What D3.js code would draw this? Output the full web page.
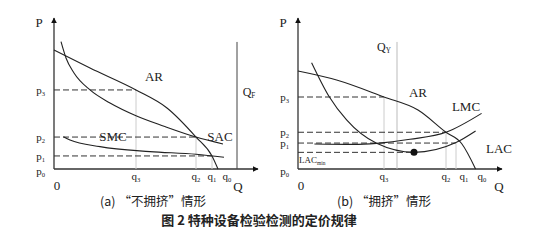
<!DOCTYPE html>
<html>
<head>
<meta charset="utf-8">
<script src="https://cdn.jsdelivr.net/npm/d3@7"></script>
<style>
  body { margin: 0; background: #fff; }
  svg text { font-family: "Liberation Serif", "DejaVu Serif", serif; fill: #222; }
  .cn { font-family: "Noto Sans CJK SC", sans-serif; }
</style>
</head>
<body>
<div id="chart"></div>
<script>
// panel (a) "no crowding"
var arA = [[0, 79.3], [18, 67.3], [41, 52.7], [56.5, 40.7], [71, 21.3], [79, 8.7], [82, 0]];
var sacA = [[3.5, 84.9], [6, 74], [10, 64], [18, 52.7], [28, 44], [41, 35.5], [55, 28.5], [71, 21.3], [84.5, 16.7]];
var smcA = [[4.7, 21.5], [8, 19.3], [23, 14.9], [48, 11.6], [71, 9.8], [85, 7.8]];
var priceA = [{name: "3", p: 52.7, q: 41}, {name: "2", p: 21.3, q: 71}, {name: "1", p: 8.7, q: 79}];
var qTicksA = [{name: "3", q: 41}, {name: "2", q: 71}, {name: "1", q: 79}, {name: "0", q: 86.5}];
var qFA = 91.5;

// panel (b) "crowding"
var arB = [[0, 65.3], [19.3, 59.3], [43, 48], [60, 39.3], [74, 24.5], [81.8, 17], [88.8, 0]];
var lacB = [[6.8, 70.9], [15.7, 48], [24.3, 32.7], [39.3, 17.1], [58, 11.1], [79, 17.6], [88.8, 25.3]];
var lmcB = [[8.2, 16.7], [27.7, 16.4], [39.3, 17.1], [56, 19.8], [74, 24.5], [91.8, 37.1]];
var priceB = [{name: "3", p: 48, q: 43}, {name: "2", p: 24.5, q: 74}, {name: "1", p: 17.3, q: 79}];
var lacMin = {p: 11.1, q: 58};
var qTicksB = [{name: "3", q: 43}, {name: "2", q: 74}, {name: "1", q: 83}, {name: "0", q: 92}];
var qYB = 49.5;

var svg = d3.select("#chart").append("svg")
    .attr("width", 542)
    .attr("height", 242);

svg.append("defs").append("marker")
    .attr("id", "arrow")
    .attr("viewBox", "0 0 10 10")
    .attr("refX", 9).attr("refY", 5)
    .attr("markerWidth", 6).attr("markerHeight", 6)
    .attr("markerUnits", "userSpaceOnUse")
    .attr("orient", "auto")
  .append("path")
    .attr("d", "M0,0 L10,5 L0,10 z")
    .attr("fill", "#111");

var line = d3.line().curve(d3.curveMonotoneX);

function subLabel(g, x, y, main, sub, anchor, size) {
  var t = g.append("text")
      .attr("x", x).attr("y", y)
      .attr("text-anchor", anchor || "middle")
      .attr("font-size", size || 12);
  t.append("tspan").text(main);
  if (sub) t.append("tspan").attr("dy", 2).attr("font-size", (size || 12) * 0.6).text(sub);
  return t;
}

function panel(x0, opts) {
  var x = d3.scaleLinear().domain([0, 100]).range([x0, x0 + 200]);
  var y = d3.scaleLinear().domain([0, 100]).range([169, 19]);
  var g = svg.append("g");
  var xy = function(d) { return [x(d[0]), y(d[1])]; };

  // axes
  g.append("line")
      .attr("x1", x(0)).attr("y1", y(0)).attr("x2", x(0)).attr("y2", y(100) - 1)
      .attr("stroke", "#333").attr("stroke-width", 1.3)
      .attr("marker-end", "url(#arrow)");
  g.append("line")
      .attr("x1", x(0)).attr("y1", y(0)).attr("x2", x(opts.xEnd)).attr("y2", y(0))
      .attr("stroke", "#333").attr("stroke-width", 1.3)
      .attr("marker-end", "url(#arrow)");

  // vertical reference line (Q_F / Q_Y)
  g.append("line")
      .attr("x1", x(opts.qCap)).attr("x2", x(opts.qCap))
      .attr("y1", y(0)).attr("y2", y(84.7))
      .attr("stroke", opts.capColor).attr("stroke-width", 1);

  // dashed price lines + dotted drop lines
  opts.prices.forEach(function(d) {
    g.append("line")
        .attr("x1", x(0)).attr("x2", x(d.q)).attr("y1", y(d.p)).attr("y2", y(d.p))
        .attr("stroke", "#333").attr("stroke-width", 1).attr("stroke-dasharray", "6,3");
    g.append("line")
        .attr("x1", x(d.q)).attr("x2", x(d.q)).attr("y1", y(d.p)).attr("y2", y(0))
        .attr("stroke", "#ccc").attr("stroke-width", 1);
    subLabel(g, x(0) - 9, y(d.p) + 4, "p", d.name, "end", 11);
  });
  subLabel(g, x(0) - 9, y(0) + 6, "p", "0", "end", 11);

  // curves
  opts.curves.forEach(function(c) {
    g.append("path")
        .attr("d", line(c.map(xy)))
        .attr("fill", "none").attr("stroke", "#222").attr("stroke-width", 1.1);
  });

  // q ticks
  opts.qTicks.forEach(function(d) {
    subLabel(g, x(d.q), y(0) + 11, "q", d.name, "middle", 11);
  });
  g.append("text").attr("x", x(0) + 3).attr("y", 190).attr("text-anchor", "middle")
      .attr("font-size", 13).text("0");
  g.append("text").attr("x", opts.qLabelX).attr("y", 191).attr("text-anchor", "middle")
      .attr("font-size", 13).text("Q");
  g.append("text").attr("x", x(0) - 15).attr("y", 27).attr("text-anchor", "middle")
      .attr("font-size", 13).text("P");

  return {g: g, x: x, y: y};
}

// panel (a)
var A = panel(54, {
  xEnd: 102, qCap: qFA, capColor: "#444",
  prices: priceA, qTicks: qTicksA, qLabelX: 238,
  curves: [arA, sacA, smcA]
});
A.g.append("text").attr("x", 154).attr("y", 81).attr("text-anchor", "middle").attr("font-size", 13).text("AR");
A.g.append("text").attr("x", 113).attr("y", 141).attr("text-anchor", "middle").attr("font-size", 13).text("SMC");
A.g.append("text").attr("x", 220).attr("y", 141).attr("text-anchor", "middle").attr("font-size", 13).text("SAC");
subLabel(A.g, 249, 96, "Q", "F", "middle", 12);

// panel (b)
var B = panel(298, {
  xEnd: 102, qCap: qYB, capColor: "#bbb",
  prices: priceB, qTicks: qTicksB, qLabelX: 499,
  curves: [arB, lacB, lmcB]
});
// LACmin line
B.g.append("line")
    .attr("x1", B.x(0)).attr("x2", B.x(lacMin.q)).attr("y1", B.y(lacMin.p)).attr("y2", B.y(lacMin.p))
    .attr("stroke", "#333").attr("stroke-width", 1).attr("stroke-dasharray", "6,3");
B.g.append("circle")
    .attr("cx", B.x(lacMin.q)).attr("cy", B.y(lacMin.p)).attr("r", 3.5).attr("fill", "#111");
subLabel(B.g, B.x(0) + 1, 163, "LAC", "min", "start", 9);
B.g.append("text").attr("x", 418).attr("y", 97).attr("text-anchor", "middle").attr("font-size", 13).text("AR");
B.g.append("text").attr("x", 466).attr("y", 111).attr("text-anchor", "middle").attr("font-size", 13).text("LMC");
B.g.append("text").attr("x", 499).attr("y", 153).attr("text-anchor", "middle").attr("font-size", 13).text("LAC");
subLabel(B.g, 384, 51, "Q", "Y", "middle", 12);

// captions
svg.append("text").attr("class", "cn").attr("x", 153).attr("y", 206)
    .attr("text-anchor", "middle").attr("font-size", 12.5).text("(a) “不拥挤”情形");
svg.append("text").attr("class", "cn").attr("x", 384).attr("y", 206)
    .attr("text-anchor", "middle").attr("font-size", 12.5).text("(b) “拥挤”情形");
svg.append("text").attr("class", "cn").attr("x", 259).attr("y", 225)
    .attr("text-anchor", "middle").attr("font-size", 13).attr("font-weight", "bold")
    .text("图 2 特种设备检验检测的定价规律");
</script>
</body>
</html>
